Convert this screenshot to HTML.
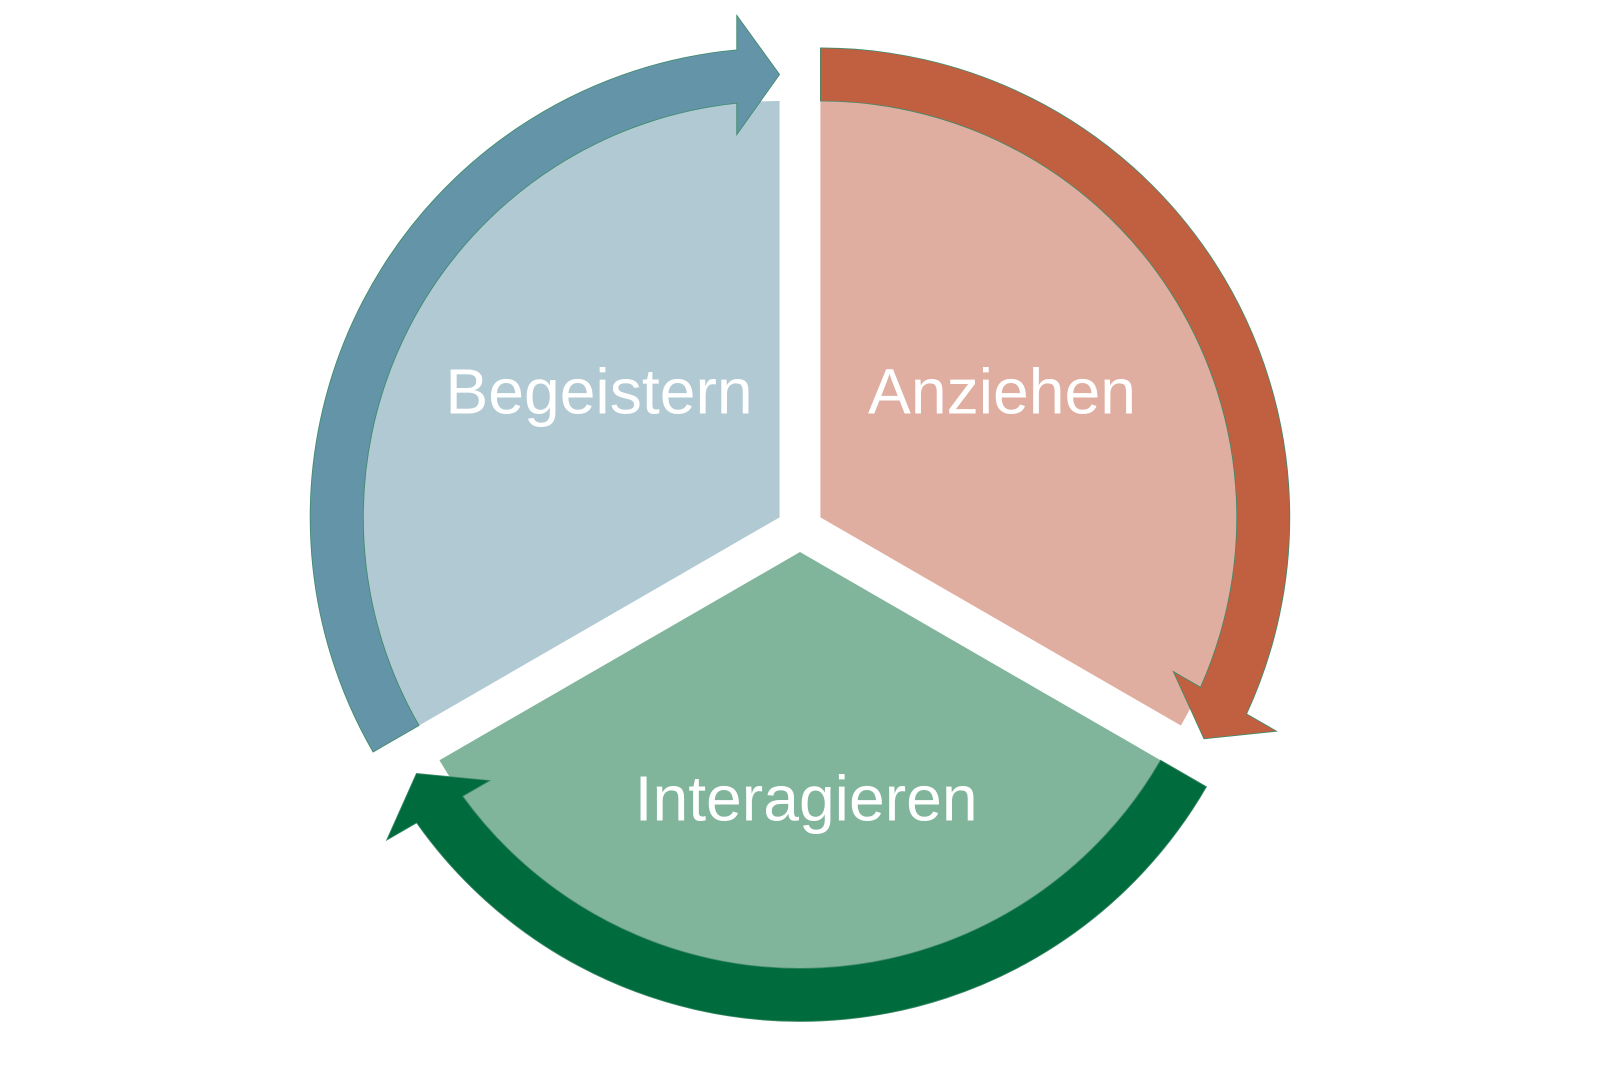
<!DOCTYPE html>
<html><head><meta charset="utf-8"><style>
html,body{margin:0;padding:0;background:#fff;}
svg{display:block}
text{font-family:"Liberation Sans",Arial,sans-serif;font-size:63px;fill:#fff;text-anchor:middle}
</style></head><body>
<svg id="s" width="1600" height="1067" viewBox="0 0 1600 1067" xmlns="http://www.w3.org/2000/svg">
<g transform="scale(1.0204)">
<g id="g"></g>
<text x="587" y="405">Begeistern</text>
<text x="982" y="405">Anziehen</text>
<text x="790" y="804">Interagieren</text>
</g>
</svg>
<script>
function P(cx,cy,r,a){a=a*Math.PI/180;return (cx+r*Math.cos(a)).toFixed(1)+","+(cy-r*Math.sin(a)).toFixed(1);}
function Q(cx,cy,x,y){return (cx+x).toFixed(1)+","+(cy-y).toFixed(1);}
function sector(cx,cy,a0,fill){var r=408;
return '<path d="M'+cx+','+cy+' L'+P(cx,cy,r,a0)+' A'+r+','+r+' 0 0 1 '+P(cx,cy,r,a0-120)+' Z" fill="'+fill+'"/>';}
function arrow(cx,cy,a0,fill){
var at=(a0-120)*Math.PI/180, L=42, rt=434;
var ux=Math.cos(at),uy=Math.sin(at),tx=-Math.sin(at),ty=Math.cos(at);
var bx=rt*ux+L*tx, by=rt*uy+L*ty;
function bp(r){var s=Math.sqrt(r*r-L*L)-rt;return Q(cx,cy,bx+s*ux,by+s*uy);}
function hp(r){var s=r-rt;return Q(cx,cy,bx+s*ux,by+s*uy);}
return '<path d="M'+P(cx,cy,460,a0)+' A460,460 0 0 1 '+bp(460)+' L'+hp(492)+' L'+Q(cx,cy,rt*ux,rt*uy)+' L'+hp(375)+' L'+bp(408)+' A408,408 0 0 0 '+P(cx,cy,408,a0)+' Z" fill="'+fill+'" stroke="#3f8a6a" stroke-width="0.8"/>';}
var h='';
h+=sector(764,507,210,'#b0c9d3');
h+=sector(804,507,90,'#dfaea0');
h+=sector(784,541,330,'#80b59b');
h+=arrow(764,507,210,'#6394a7');
h+=arrow(804,507,90,'#c16041');
h+=arrow(784,541,-30,'#006b3c');
document.getElementById('g').innerHTML=h;
</script>
</body></html>
